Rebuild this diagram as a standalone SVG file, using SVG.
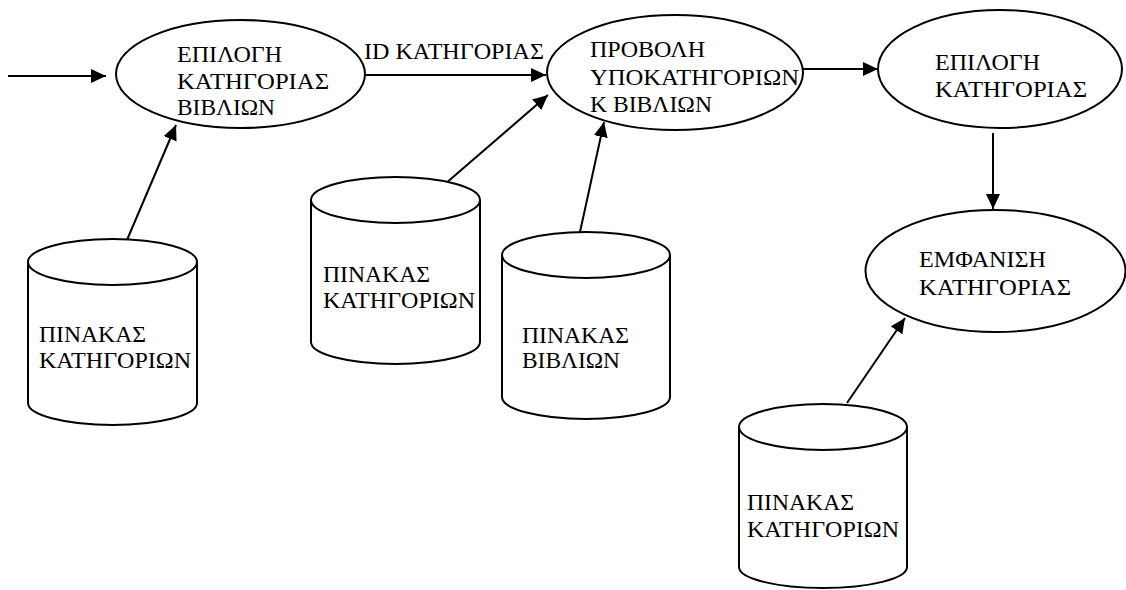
<svg xmlns="http://www.w3.org/2000/svg" width="1126" height="590" viewBox="0 0 1126 590">
  <style>
    .shape { fill: #ffffff; stroke: #000000; stroke-width: 2; }
    .edge { fill: none; stroke: #000000; stroke-width: 2; }
    .label { font-family: "Liberation Serif", "Times New Roman", "DejaVu Serif", serif; font-size: 24px; fill: #000000; }
  </style>
  <defs>
    <marker id="arrow" markerWidth="15" markerHeight="14" refX="15" refY="7" orient="auto" markerUnits="userSpaceOnUse">
      <path d="M0,0 L15,7 L0,14 Z" fill="#000000"/>
    </marker>
  </defs>

  <rect width="1126" height="590" fill="#ffffff"/>

  <!-- data flows -->
  <g id="connectors">
    <line class="edge" x1="8" y1="76" x2="106" y2="76" marker-end="url(#arrow)"/>
    <line class="edge" x1="365" y1="75" x2="546" y2="75" marker-end="url(#arrow)"/>
    <line class="edge" x1="802" y1="69" x2="878" y2="69" marker-end="url(#arrow)"/>
    <line class="edge" x1="993" y1="133" x2="993" y2="209" marker-end="url(#arrow)"/>
    <line class="edge" x1="127" y1="240" x2="176" y2="125" marker-end="url(#arrow)"/>
    <line class="edge" x1="445" y1="184" x2="548" y2="95" marker-end="url(#arrow)"/>
    <line class="edge" x1="580" y1="232" x2="604" y2="122" marker-end="url(#arrow)"/>
    <line class="edge" x1="847" y1="403" x2="905" y2="318" marker-end="url(#arrow)"/>
    <text class="label" x="364" y="59" textLength="180" lengthAdjust="spacingAndGlyphs">ID ΚΑΤΗΓΟΡΙΑΣ</text>
  </g>

  <!-- processes -->
  <g id="select-book-category">
    <ellipse class="shape" cx="240.5" cy="74" rx="124.5" ry="54"/>
    <text class="label" x="177" y="62" textLength="105" lengthAdjust="spacingAndGlyphs">ΕΠΙΛΟΓΗ</text>
    <text class="label" x="177" y="89" textLength="152" lengthAdjust="spacingAndGlyphs">ΚΑΤΗΓΟΡΙΑΣ</text>
    <text class="label" x="177" y="115" textLength="98" lengthAdjust="spacingAndGlyphs">ΒΙΒΛΙΩΝ</text>
  </g>

  <g id="show-subcategories">
    <ellipse class="shape" cx="675" cy="72.5" rx="128" ry="57.5"/>
    <text class="label" x="590" y="57" textLength="115" lengthAdjust="spacingAndGlyphs">ΠΡΟΒΟΛΗ</text>
    <text class="label" x="590" y="85" textLength="209" lengthAdjust="spacingAndGlyphs">ΥΠΟΚΑΤΗΓΟΡΙΩΝ</text>
    <text class="label" x="590" y="112" textLength="122" lengthAdjust="spacingAndGlyphs">Κ ΒΙΒΛΙΩΝ</text>
  </g>

  <g id="select-category">
    <ellipse class="shape" cx="1000" cy="69" rx="122" ry="59"/>
    <text class="label" x="935" y="70" textLength="105" lengthAdjust="spacingAndGlyphs">ΕΠΙΛΟΓΗ</text>
    <text class="label" x="935" y="97" textLength="152" lengthAdjust="spacingAndGlyphs">ΚΑΤΗΓΟΡΙΑΣ</text>
  </g>

  <g id="display-category">
    <ellipse class="shape" cx="995.5" cy="271" rx="130" ry="61"/>
    <text class="label" x="919" y="267" textLength="127" lengthAdjust="spacingAndGlyphs">ΕΜΦΑΝΙΣΗ</text>
    <text class="label" x="919" y="295" textLength="152" lengthAdjust="spacingAndGlyphs">ΚΑΤΗΓΟΡΙΑΣ</text>
  </g>

  <!-- data stores -->
  <g id="store-categories-1">
    <path class="shape" d="M28,262 L28,403 A84.5,22 0 0 0 197,403 L197,262"/>
    <ellipse class="shape" cx="112.5" cy="262" rx="84.5" ry="23"/>
    <text class="label" x="39" y="342" textLength="107" lengthAdjust="spacingAndGlyphs">ΠΙΝΑΚΑΣ</text>
    <text class="label" x="39" y="368" textLength="152" lengthAdjust="spacingAndGlyphs">ΚΑΤΗΓΟΡΙΩΝ</text>
  </g>

  <g id="store-categories-2">
    <path class="shape" d="M311,200 L311,342 A84.5,22 0 0 0 480,342 L480,200"/>
    <ellipse class="shape" cx="395.5" cy="200" rx="84.5" ry="23"/>
    <text class="label" x="323" y="282" textLength="107" lengthAdjust="spacingAndGlyphs">ΠΙΝΑΚΑΣ</text>
    <text class="label" x="323" y="308" textLength="152" lengthAdjust="spacingAndGlyphs">ΚΑΤΗΓΟΡΙΩΝ</text>
  </g>

  <g id="store-books">
    <path class="shape" d="M502,255 L502,397 A84,22 0 0 0 670,397 L670,255"/>
    <ellipse class="shape" cx="586" cy="255" rx="84" ry="23"/>
    <text class="label" x="522" y="343" textLength="107" lengthAdjust="spacingAndGlyphs">ΠΙΝΑΚΑΣ</text>
    <text class="label" x="522" y="368" textLength="98" lengthAdjust="spacingAndGlyphs">ΒΙΒΛΙΩΝ</text>
  </g>

  <g id="store-categories-3">
    <path class="shape" d="M739,427 L739,567 A84,21 0 0 0 907,567 L907,427"/>
    <ellipse class="shape" cx="823" cy="427" rx="84" ry="23"/>
    <text class="label" x="747" y="510" textLength="107" lengthAdjust="spacingAndGlyphs">ΠΙΝΑΚΑΣ</text>
    <text class="label" x="747" y="537" textLength="152" lengthAdjust="spacingAndGlyphs">ΚΑΤΗΓΟΡΙΩΝ</text>
  </g>
</svg>
